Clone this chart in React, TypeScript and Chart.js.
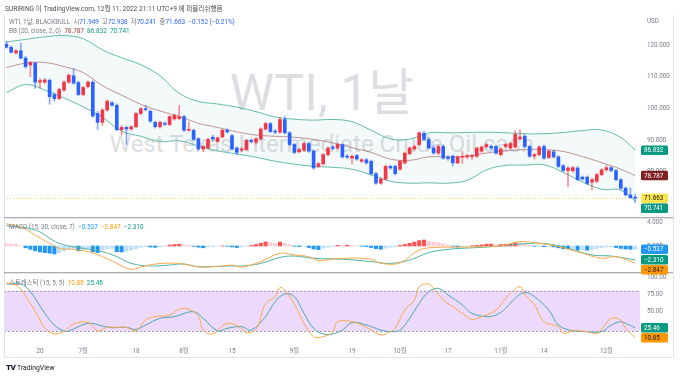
import React, { useEffect, useRef } from 'react';
import { Chart, registerables } from 'chart.js';

Chart.register(...registerables);

const FONT = "Roboto, 'Noto Sans CJK KR', 'Noto Sans', sans-serif";

// bar index 0 = first daily bar shown (trading days)
const opens = [
  120.3, 119.3, 117.5, 118.2, 115.9, 113.7, 114.3, 108.3, 108.3, 108.9,
  104.4, 103.1, 105.8, 108.3, 110.3, 108.2, 104.4, 106.9, 108.3, 98.4,
  95.6, 99.5, 101.8, 101.0, 93.3, 94.0, 93.5, 94.2, 98.4, 99.9,
  99.1, 95.6, 94.2, 95.3, 94.9, 96.7, 96.8, 97.4, 93.1, 93.1,
  90.4, 87.2, 87.5, 90.9, 89.6, 91.0, 93.1, 91.4, 87.5, 86.8,
  87.0, 89.9, 89.3, 90.4, 93.5, 95.2, 92.8, 92.5, 96.5, 92.3,
  88.6, 86.3, 86.8, 88.9, 86.5, 81.7, 82.5, 85.4, 87.8, 87.5,
  88.6, 84.9, 84.3, 85.1, 83.3, 83.8, 83.3, 79.4, 76.4, 77.7,
  81.7, 81.7, 80.8, 82.8, 85.7, 87.2, 88.6, 92.1, 90.2, 87.5,
  85.9, 88.0, 84.6, 84.9, 82.8, 84.6, 84.7, 84.8, 84.9, 86.5,
  87.9, 88.0, 88.0, 85.4, 88.0, 87.5, 87.8, 90.4, 91.2, 88.0,
  84.9, 85.4, 88.0, 84.5, 86.3, 84.7, 81.9, 80.4, 80.3, 81.2,
  78.3, 78.3, 76.7, 77.0, 79.1, 80.6, 81.3, 80.4, 77.5, 74.8,
  72.7, 71.949,
];
const highs = [
  121.2, 119.8, 118.6, 120.6, 116.4, 114.9, 114.6, 109.4, 109.4, 109.3,
  104.9, 106.4, 108.8, 110.9, 112.6, 108.6, 107.0, 108.7, 108.7, 99.0,
  99.9, 102.7, 102.2, 101.4, 94.6, 94.4, 94.6, 98.8, 100.3, 101.0,
  99.6, 96.0, 96.0, 95.8, 97.8, 98.2, 101.0, 97.8, 95.6, 93.5,
  90.8, 88.4, 90.6, 91.6, 91.0, 93.4, 93.6, 91.8, 87.9, 87.6,
  90.3, 90.4, 90.8, 93.9, 95.6, 95.6, 93.4, 97.2, 97.6, 92.7,
  89.0, 87.5, 89.3, 89.3, 86.9, 83.0, 85.8, 87.9, 88.3, 89.0,
  89.0, 85.5, 85.3, 85.5, 84.2, 84.2, 83.7, 79.8, 78.1, 82.1,
  82.1, 82.1, 83.7, 86.3, 87.9, 88.4, 92.6, 92.8, 90.9, 88.2,
  88.5, 88.6, 85.2, 85.3, 85.0, 86.5, 85.6, 85.5, 87.8, 88.2,
  89.0, 88.5, 88.4, 87.6, 89.0, 89.3, 93.0, 93.3, 91.6, 88.4,
  85.8, 88.3, 88.5, 86.9, 86.8, 85.1, 82.3, 81.6, 81.7, 81.6,
  78.7, 78.7, 77.9, 79.5, 81.0, 82.0, 81.7, 80.8, 77.9, 75.2,
  74.9, 72.938,
];
const lows = [
  119.0, 117.5, 117.2, 115.6, 112.6, 110.0, 106.3, 106.5, 107.8, 101.3,
  102.3, 102.8, 105.4, 107.9, 107.6, 104.0, 104.0, 106.5, 97.2, 93.3,
  94.6, 99.1, 100.6, 92.9, 91.7, 88.6, 93.1, 93.9, 98.0, 99.2,
  95.6, 93.8, 93.8, 94.6, 94.5, 96.3, 96.4, 92.7, 92.8, 89.8,
  86.8, 86.4, 87.1, 89.6, 89.3, 90.8, 92.2, 86.8, 85.4, 86.3,
  86.7, 89.1, 88.6, 90.0, 93.1, 92.3, 92.0, 92.1, 91.9, 88.2,
  85.7, 85.9, 86.4, 86.1, 80.8, 81.3, 82.1, 85.0, 86.9, 87.1,
  84.3, 84.2, 82.5, 83.6, 82.9, 82.4, 79.0, 76.0, 76.0, 77.3,
  80.8, 79.0, 80.4, 82.4, 85.3, 86.8, 88.3, 89.9, 87.2, 85.6,
  85.3, 84.0, 83.6, 81.8, 82.5, 82.6, 84.1, 83.9, 84.5, 86.1,
  87.5, 87.0, 85.5, 85.0, 87.6, 87.1, 87.5, 90.0, 87.6, 84.5,
  84.0, 85.0, 83.9, 84.1, 84.3, 81.3, 80.0, 75.3, 79.9, 77.1,
  77.3, 75.9, 74.3, 76.6, 78.7, 80.2, 80.0, 77.1, 74.4, 72.3,
  71.6, 70.241,
];
const closes = [
  119.3, 117.7, 118.2, 115.9, 113.2, 114.5, 108.3, 108.8, 109.0, 103.7,
  103.1, 106.0, 108.3, 110.5, 108.0, 104.4, 106.6, 108.3, 97.6, 95.6,
  99.5, 102.3, 101.0, 93.3, 94.0, 93.5, 94.2, 98.4, 99.9, 99.6,
  96.0, 94.2, 95.6, 95.0, 97.4, 97.8, 97.4, 93.1, 93.4, 90.2,
  87.2, 88.0, 90.2, 90.4, 90.7, 93.1, 92.6, 87.2, 86.1, 87.2,
  89.9, 89.5, 90.4, 93.5, 95.2, 92.7, 92.5, 96.5, 92.3, 88.6,
  86.1, 87.0, 88.9, 86.5, 81.2, 82.5, 85.4, 87.5, 87.4, 88.6,
  84.7, 84.6, 84.9, 84.0, 83.8, 82.8, 79.4, 76.4, 77.7, 81.7,
  81.2, 79.4, 83.3, 85.9, 87.5, 88.0, 92.3, 90.2, 87.5, 85.9,
  88.0, 84.3, 84.2, 82.8, 84.7, 84.9, 85.1, 85.1, 87.5, 87.8,
  88.6, 87.5, 85.9, 87.2, 88.6, 88.9, 91.8, 91.0, 88.0, 84.9,
  85.4, 87.8, 84.3, 86.5, 84.7, 81.7, 80.4, 81.2, 81.3, 77.5,
  77.7, 76.3, 77.5, 79.1, 80.6, 81.3, 80.4, 77.5, 74.8, 72.7,
  71.815, 71.663,
];

// Bollinger bands (read at sample bars)
const bbIdx = [0, 4, 8, 12, 16, 20, 24, 28, 32, 36, 40, 44, 48, 52, 56, 60, 64, 68, 72, 76, 80, 84, 88, 92, 96, 100, 104, 108, 112, 116, 120, 124, 128, 131];
const bbUpper = [121.0, 121.8, 122.6, 123.0, 122.0, 118.5, 116.0, 113.8, 110.3, 104.8, 102.2, 101.4, 100.4, 99.0, 97.3, 96.6, 96.3, 96.5, 95.8, 93.1, 90.4, 90.3, 92.3, 92.3, 92.4, 92.5, 92.3, 92.0, 92.0, 92.4, 93.0, 93.2, 90.8, 86.832];
const bbBasis = [112.9, 114.3, 114.5, 113.2, 111.3, 107.2, 104.2, 101.3, 99.2, 97.5, 95.3, 94.0, 92.6, 91.6, 91.2, 90.9, 90.2, 89.1, 87.6, 86.1, 84.0, 83.6, 84.7, 84.7, 84.9, 85.9, 86.6, 87.0, 87.0, 86.4, 84.8, 82.9, 80.8, 78.787];
const bbLower = [105.0, 107.5, 105.8, 103.3, 100.5, 97.2, 92.8, 91.2, 89.5, 89.8, 88.1, 86.6, 85.6, 84.6, 83.3, 82.4, 81.7, 81.4, 80.8, 79.0, 77.0, 76.4, 76.5, 76.4, 77.3, 80.6, 82.0, 82.1, 82.2, 79.8, 76.8, 74.5, 74.2, 70.741];

// MACD (15, 30, close, 7)
const macdHist = [
  0.4, 0.35, 0.3, 0.05, -0.3, -0.55, -0.8, -1.0, -1.1, -1.2,
  -1.33, -1.1, -0.8, -0.55, -0.4, -0.8, -0.55, -0.45, -0.95, -1.1,
  -0.67, -0.45, -0.4, -0.95, -1.0, -0.9, -0.67, -0.45, -0.22, -0.1,
  -0.17, -0.22, -0.1, -0.05, 0.15, 0.25, 0.3, 0.15, 0.1, -0.05,
  -0.2, -0.3, -0.15, -0.1, -0.02, 0.02, -0.05, -0.15, -0.25, -0.15,
  -0.05, 0.1, 0.25, 0.45, 0.7, 0.55, 0.4, 0.65, 0.45, 0.25,
  -0.05, -0.1, -0.05, -0.25, -0.5, -0.6, -0.35, -0.2, -0.1, 0.1,
  0.1, 0.15, 0.1, 0.05, -0.05, -0.1, -0.25, -0.45, -0.55, -0.35,
  -0.2, -0.1, 0.1, 0.25, 0.45, 0.65, 0.9, 1.0, 0.8, 0.65,
  0.55, 0.35, 0.2, -0.05, -0.1, -0.1, -0.05, 0.05, 0.1, 0.2,
  0.3, 0.32, 0.2, 0.25, 0.3, 0.35, 0.55, 0.5, 0.3, 0.1,
  -0.05, -0.05, -0.1, -0.1, -0.15, -0.3, -0.45, -0.5, -0.45, -0.7,
  -0.6, -0.7, -0.55, -0.4, -0.25, -0.15, -0.1, -0.25, -0.4, -0.5,
  -0.55, -0.537,
];
const macdIdx = [0, 3, 6, 9, 11, 14, 17, 20, 23, 26, 28, 31, 36, 40, 44, 47, 49, 53, 57, 60, 63, 65, 70, 76, 78, 82, 86, 90, 94, 99, 103, 107, 111, 115, 120, 124, 127, 131];
const macdLine = [3.7, 3.2, 1.83, 0.44, -0.39, -0.56, -0.94, -1.78, -2.9, -3.9, -3.5, -3.0, -2.9, -3.5, -3.4, -3.2, -3.5, -2.6, -1.2, -1.5, -1.78, -2.4, -2.05, -2.2, -2.9, -2.8, -0.67, -0.22, -0.2, -0.1, 0, 0.72, 0.44, -0.1, -1.2, -2.05, -1.78, -2.847];
const signalIdx = [0, 6, 11, 16, 20, 23, 26, 30, 34, 37, 40, 46, 49, 53, 57, 60, 64, 70, 76, 80, 84, 88, 92, 99, 103, 109, 113, 117, 122, 126, 131];
const signalLine = [3.4, 2.67, 0.44, -0.39, -0.94, -1.78, -2.9, -3.33, -3.17, -3.0, -3.44, -3.33, -3.33, -2.9, -1.9, -1.67, -2.05, -2.2, -2.6, -2.9, -2.33, -1.1, -0.56, -0.22, 0, 0.44, 0.33, -0.39, -1.5, -1.67, -2.31];

// Stochastic (15, 5, 5)
const stochKIdx = [0, 2, 3, 5, 7, 8, 10, 12, 14, 17, 19, 21, 23, 25, 27, 29, 31, 34, 36, 38, 40, 41, 43, 46, 49, 50, 52, 54, 56, 57, 58, 60, 62, 64, 66, 68, 69, 72, 74, 76, 78, 80, 81, 83, 85, 86, 88, 89, 91, 93, 95, 97, 99, 102, 104, 105, 107, 108, 110, 112, 115, 116, 118, 121, 123, 125, 126, 128, 129, 131];
const stochK = [91.7, 88, 82, 61, 36.8, 25, 16.2, 19.6, 30.9, 33.3, 21, 26, 26, 26, 21, 36.8, 41.7, 44, 52.5, 52.5, 41.7, 22, 16.2, 31.9, 24.5, 18.1, 23, 61, 71, 84.8, 80, 60, 32, 12.3, 12.3, 19.6, 34.3, 34.3, 29.4, 22, 14.7, 19.6, 24.5, 51.5, 66.2, 85.8, 89.7, 83.3, 66.2, 56.3, 46.6, 37.7, 41.7, 51.5, 68.6, 76, 85.8, 73.5, 58.8, 34.3, 27, 17.2, 21, 19.6, 17.2, 31.9, 39.2, 36.8, 24.5, 10.85];
const stochDIdx = [0, 3, 5, 8, 10, 12, 13, 17, 20, 22, 25, 27, 29, 32, 35, 39, 41, 44, 46, 49, 51, 54, 56, 58, 60, 62, 64, 66, 68, 70, 72, 75, 78, 80, 82, 84, 86, 88, 90, 92, 95, 97, 100, 102, 104, 106, 108, 110, 113, 115, 118, 121, 124, 126, 128, 129, 131];
const stochD = [89.7, 89.7, 78.4, 46.6, 29.4, 20.6, 20.6, 31.9, 28, 25.5, 26, 23, 29.4, 39.2, 41.7, 49, 39.2, 21, 24.5, 27, 22, 41.7, 63.7, 75, 71, 46.6, 24.5, 16.2, 16.2, 22, 32.8, 29.4, 22, 19.6, 22, 39.2, 61, 78.4, 83.3, 73.5, 58.8, 46.6, 41.7, 44, 53.9, 68.6, 77, 71, 51.5, 29.4, 21, 19.6, 19.6, 29.4, 34.3, 31.9, 25.46];
const stochBands = [80, 20];

const timeTickIdx = [7, 16, 27, 37, 47, 60, 72, 82, 92, 103, 112, 125];
const timeTickLabels = ['20', '7월', '18', '8월', '15', '9월', '19', '10월', '17', '11월', '14', '12월'];
const priceTicks = [70, 80, 90, 100, 110, 120];
const macdTicks = [-4, 0, 4];
const stochTicks = [25, 50, 75, 100];

const UP = '#F23645';
const DOWN = '#2962FF';
const UP_WICK = 'rgba(242,54,69,0.55)';
const DOWN_WICK = 'rgba(41,98,255,0.55)';
const GRAY = '#787b86';
const TEAL = '#089981';
const ORANGE = '#FF9800';
const BASIS_BOX = '#7f1f1f';
const BB_LINE = '#62bba9';
const BASIS_LINE = 'rgba(150,60,60,0.55)';
const SIGNAL_LINE = '#4fb3a3';
const MACD_LINE = '#f8a947';
const STOCH_D = '#4aa6b5';
const STOCH_K = '#f9a94b';
const STOCH_BG = '#ecd9fb';

const last = closes.length - 1;
const fmt = (v: number, d: number) => (v < 0 ? '\u2212' : '') + Math.abs(v).toFixed(d);

const pts = (xs: number[], ys: number[]) => xs.map((x, k) => ({ x, y: ys[k] }));

function drawBoxes(ctx: CanvasRenderingContext2D, scale: any, items: { v: number; text: string; bg: string; fg: string }[]) {
  const h = 9.5;
  const arr = items.map((it) => ({ ...it, y: scale.getPixelForValue(it.v) })).sort((a, b) => a.y - b.y);
  for (let k = 1; k < arr.length; k++) {
    if (arr[k].y < arr[k - 1].y + h + 0.5) arr[k].y = arr[k - 1].y + h + 0.5;
  }
  arr.forEach((it) => {
    ctx.fillStyle = it.bg;
    ctx.beginPath();
    ctx.roundRect(641, it.y - h / 2, 27, h, 1.5);
    ctx.fill();
    ctx.fillStyle = it.fg;
    ctx.font = `6.3px ${FONT}`;
    ctx.textAlign = 'left';
    ctx.textBaseline = 'middle';
    ctx.fillText(it.text, 644, it.y + 0.5);
  });
}

const panesPlugin = {
  id: 'panes',
  beforeDatasetsDraw(chart: any) {
    const { ctx, chartArea } = chart;
    const ys = chart.scales.yStoch;
    const yTop = ys.getPixelForValue(stochBands[0]);
    const yBot = ys.getPixelForValue(stochBands[1]);
    ctx.save();
    ctx.fillStyle = STOCH_BG;
    ctx.fillRect(chartArea.left, yTop, chartArea.right - chartArea.left, yBot - yTop);
    ctx.setLineDash([2, 2]);
    ctx.strokeStyle = '#9a9ca6';
    ctx.lineWidth = 1;
    [yTop, yBot].forEach((y) => {
      ctx.beginPath();
      ctx.moveTo(chartArea.left, Math.round(y) + 0.5);
      ctx.lineTo(chartArea.right, Math.round(y) + 0.5);
      ctx.stroke();
    });
    const yp = chart.scales.y.getPixelForValue(closes[last]);
    ctx.setLineDash([1, 2]);
    ctx.strokeStyle = '#f2d64b';
    ctx.beginPath();
    ctx.moveTo(chartArea.left, Math.round(yp) + 0.5);
    ctx.lineTo(chartArea.right, Math.round(yp) + 0.5);
    ctx.stroke();
    ctx.restore();
  },
  afterDraw(chart: any) {
    const { ctx, chartArea } = chart;
    ctx.save();
    // frame: left, right, bottom
    ctx.strokeStyle = '#e0e3eb';
    ctx.lineWidth = 1;
    ctx.beginPath();
    ctx.moveTo(chartArea.left + 0.5, 15);
    ctx.lineTo(chartArea.left + 0.5, 357.5);
    ctx.lineTo(673.5, 357.5);
    ctx.lineTo(673.5, 15);
    ctx.stroke();
    // pane separators
    ctx.fillStyle = '#a9acb5';
    [chart.scales.yMacd.top, chart.scales.yStoch.top].forEach((t: number) => {
      ctx.fillRect(chartArea.left, Math.round(t) - 1, 673 - chartArea.left, 1.3);
    });
    drawBoxes(ctx, chart.scales.y, [
      { v: bbUpper[bbUpper.length - 1], text: bbUpper[bbUpper.length - 1].toFixed(3), bg: TEAL, fg: '#fff' },
      { v: bbBasis[bbBasis.length - 1], text: bbBasis[bbBasis.length - 1].toFixed(3), bg: BASIS_BOX, fg: '#fff' },
      { v: closes[last], text: closes[last].toFixed(3), bg: '#fbe54c', fg: '#131722' },
      { v: bbLower[bbLower.length - 1], text: bbLower[bbLower.length - 1].toFixed(3), bg: TEAL, fg: '#fff' },
    ]);
    drawBoxes(ctx, chart.scales.yMacd, [
      { v: macdHist[last], text: fmt(macdHist[last], 3), bg: '#2196F3', fg: '#fff' },
      { v: signalLine[signalLine.length - 1], text: fmt(signalLine[signalLine.length - 1], 3), bg: TEAL, fg: '#fff' },
      { v: macdLine[macdLine.length - 1], text: fmt(macdLine[macdLine.length - 1], 3), bg: ORANGE, fg: '#131722' },
    ]);
    drawBoxes(ctx, chart.scales.yStoch, [
      { v: stochD[stochD.length - 1], text: stochD[stochD.length - 1].toFixed(2), bg: TEAL, fg: '#fff' },
      { v: stochK[stochK.length - 1], text: stochK[stochK.length - 1].toFixed(2), bg: ORANGE, fg: '#131722' },
    ]);
    ctx.restore();
  },
};

const tickFont = { size: 6.3, family: FONT };

function yAxis(weight: number, min: number, max: number, ticks: number[], dec: number) {
  return {
    type: 'linear',
    position: 'right',
    stack: 'panes',
    stackWeight: weight,
    min,
    max,
    offset: false,
    grid: { display: false, drawTicks: false },
    border: { display: false },
    afterBuildTicks: (s: any) => {
      s.ticks = ticks.map((v) => ({ value: v }));
    },
    afterFit: (s: any) => {
      s.width = 33;
    },
    ticks: {
      callback: (v: any) => Number(v).toFixed(dec),
      padding: 7,
      font: tickFont,
      color: GRAY,
      autoSkip: false,
    },
  };
}

export default function App() {
  const ref = useRef<HTMLCanvasElement>(null);

  useEffect(() => {
    const histColors = macdHist.map((v, i) => {
      const prev = i > 0 ? macdHist[i - 1] : v + (v >= 0 ? 1 : -1);
      if (v >= 0) return v > prev ? '#FF5252' : '#FFCDD2';
      return v < prev ? '#2196F3' : '#BBDEFB';
    });
    const chart = new Chart(ref.current as HTMLCanvasElement, {
      type: 'line',
      data: {
        datasets: [
          {
            type: 'line', yAxisID: 'y', data: pts(bbIdx, bbUpper), borderColor: BB_LINE, borderWidth: 1,
            pointRadius: 0, tension: 0.4, fill: '+1', backgroundColor: 'rgba(0,140,150,0.045)', order: 20,
          },
          {
            type: 'line', yAxisID: 'y', data: pts(bbIdx, bbLower), borderColor: BB_LINE, borderWidth: 1,
            pointRadius: 0, tension: 0.4, fill: false, order: 19,
          },
          {
            type: 'line', yAxisID: 'y', data: pts(bbIdx, bbBasis), borderColor: BASIS_LINE, borderWidth: 1,
            pointRadius: 0, tension: 0.4, fill: false, order: 18,
          },
          {
            type: 'bar', yAxisID: 'y', data: lows.map((l, i) => ({ x: i, y: [l, highs[i]] })),
            backgroundColor: opens.map((o, i) => (closes[i] >= o ? UP_WICK : DOWN_WICK)),
            barThickness: 1, grouped: false, borderWidth: 0, order: 2,
          },
          {
            type: 'bar', yAxisID: 'y', data: opens.map((o, i) => ({ x: i, y: [o, closes[i]] })),
            backgroundColor: opens.map((o, i) => (closes[i] >= o ? UP : DOWN)),
            barThickness: 3, grouped: false, minBarLength: 1, borderWidth: 0, order: 1,
          },
          {
            type: 'bar', yAxisID: 'yMacd', data: macdHist.map((v, i) => ({ x: i, y: v })),
            backgroundColor: histColors, barThickness: 3.4, grouped: false, borderWidth: 0, order: 12,
          },
          {
            type: 'line', yAxisID: 'yMacd', data: pts(signalIdx, signalLine), borderColor: SIGNAL_LINE, borderWidth: 1,
            pointRadius: 0, tension: 0.4, fill: false, order: 11,
          },
          {
            type: 'line', yAxisID: 'yMacd', data: pts(macdIdx, macdLine), borderColor: MACD_LINE, borderWidth: 1,
            pointRadius: 0, tension: 0.4, fill: false, order: 10,
          },
          {
            type: 'line', yAxisID: 'yStoch', data: pts(stochDIdx, stochD), borderColor: STOCH_D, borderWidth: 1,
            pointRadius: 0, tension: 0.4, fill: false, order: 9,
          },
          {
            type: 'line', yAxisID: 'yStoch', data: pts(stochKIdx, stochK), borderColor: STOCH_K, borderWidth: 1,
            pointRadius: 0, tension: 0.4, fill: false, order: 8,
          },
        ] as any,
      },
      options: {
        responsive: false,
        devicePixelRatio: 1,
        animation: false,
        layout: { padding: { left: 4, top: 15, right: 7, bottom: 20 } },
        plugins: { legend: { display: false }, tooltip: { enabled: false } },
        scales: {
          x: {
            type: 'linear',
            min: -0.5,
            max: 132,
            offset: false,
            grid: { display: false, drawTicks: false },
            border: { display: false },
            afterBuildTicks: (s: any) => {
              s.ticks = timeTickIdx.map((v) => ({ value: v }));
            },
            afterFit: (s: any) => {
              s.height = 12;
            },
            ticks: {
              callback: (_v: any, i: number) => timeTickLabels[i],
              font: tickFont,
              color: GRAY,
              padding: 3,
              maxRotation: 0,
              autoSkip: false,
            },
          },
          y: yAxis(203, 65.4, 129.5, priceTicks, 3),
          yMacd: yAxis(55, -4.5, 4.67, macdTicks, 3),
          yStoch: yAxis(72, 0, 105.9, stochTicks, 2),
        } as any,
      },
      plugins: [panesPlugin],
    });
    return () => chart.destroy();
  }, []);

  const txt = (color: string) => ({ color });
  const wm = '#dddee1';
  const leg: React.CSSProperties = { position: 'absolute', left: 9, fontSize: 6.4, lineHeight: '8px', whiteSpace: 'nowrap', zIndex: 2 };

  return (
    <div style={{ position: 'fixed', left: 0, top: 0, width: 680, height: 377, background: '#fff', overflow: 'hidden', fontFamily: FONT }}>
      <div style={{ position: 'absolute', left: 4, width: 636, top: 63, textAlign: 'center', fontSize: 50, lineHeight: '60px', color: wm, whiteSpace: 'nowrap', zIndex: 0 }}>
        WTI, 1날
      </div>
      <div style={{ position: 'absolute', left: 4, width: 636, top: 129, textAlign: 'center', fontSize: 24, lineHeight: '30px', color: wm, whiteSpace: 'nowrap', zIndex: 0 }}>
        West Texas Intermediate Crude Oil cash
      </div>
      <canvas ref={ref} width={680} height={377} style={{ position: 'absolute', left: 0, top: 0, width: 680, height: 377, zIndex: 1 }} />
      <div style={{ position: 'absolute', left: 5, top: 5, fontSize: 6.6, lineHeight: '8px', color: '#4a4e59', whiteSpace: 'nowrap', zIndex: 2 }}>
        SURIRING 이 TradingView.com, 12월 11, 2022 21:11 UTC+9 에 퍼블리쉬했음
      </div>
      <div style={{ ...leg, top: 18 }}>
        <span style={txt(GRAY)}>WTI, 1날, BLACKBULL</span>
        <span style={txt(GRAY)}>&nbsp;&nbsp;시</span><span style={txt(DOWN)}>{opens[last].toFixed(3)}</span>
        <span style={txt(GRAY)}>&nbsp;&nbsp;고</span><span style={txt(DOWN)}>{highs[last].toFixed(3)}</span>
        <span style={txt(GRAY)}>&nbsp;&nbsp;저</span><span style={txt(DOWN)}>{lows[last].toFixed(3)}</span>
        <span style={txt(GRAY)}>&nbsp;&nbsp;종</span><span style={txt(DOWN)}>{closes[last].toFixed(3)}</span>
        <span style={txt(DOWN)}>&nbsp;&nbsp;{fmt(closes[last] - closes[last - 1], 3)} ({fmt(((closes[last] - closes[last - 1]) / closes[last - 1]) * 100, 2)}%)</span>
      </div>
      <div style={{ ...leg, top: 27 }}>
        <span style={txt(GRAY)}>BB (20, close, 2, 0)</span>
        <span style={txt('#9c3535')}>&nbsp;&nbsp;{bbBasis[bbBasis.length - 1].toFixed(3)}</span>
        <span style={txt(TEAL)}>&nbsp;&nbsp;{bbUpper[bbUpper.length - 1].toFixed(3)}</span>
        <span style={txt(TEAL)}>&nbsp;&nbsp;{bbLower[bbLower.length - 1].toFixed(3)}</span>
      </div>
      <div style={{ ...leg, top: 223 }}>
        <span style={txt(GRAY)}>MACD (15, 30, close, 7)</span>
        <span style={txt('#2196F3')}>&nbsp;&nbsp;{fmt(macdHist[last], 3)}</span>
        <span style={txt(ORANGE)}>&nbsp;&nbsp;{fmt(macdLine[macdLine.length - 1], 3)}</span>
        <span style={txt(TEAL)}>&nbsp;&nbsp;{fmt(signalLine[signalLine.length - 1], 3)}</span>
      </div>
      <div style={{ ...leg, top: 279 }}>
        <span style={txt(GRAY)}>스토캐스틱 (15, 5, 5)</span>
        <span style={txt(ORANGE)}>&nbsp;&nbsp;{stochK[stochK.length - 1].toFixed(2)}</span>
        <span style={txt(TEAL)}>&nbsp;&nbsp;{stochD[stochD.length - 1].toFixed(2)}</span>
      </div>
      <div style={{ position: 'absolute', left: 647, top: 17, fontSize: 6.3, lineHeight: '8px', color: GRAY, zIndex: 2 }}>USD</div>
      <div style={{ position: 'absolute', left: 6, top: 364, fontSize: 6.8, lineHeight: '8px', color: '#131722', whiteSpace: 'nowrap', zIndex: 2 }}>
        <span style={{ fontWeight: 900, fontSize: 8, letterSpacing: -0.5 }}>TV</span>
        <span>&nbsp;TradingView</span>
      </div>
    </div>
  );
}
